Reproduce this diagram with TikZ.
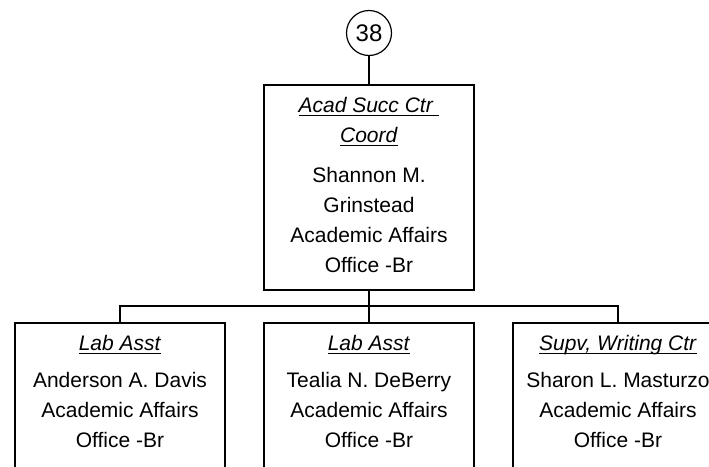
\documentclass[tikz,border=0pt]{standalone}
\usepackage{fontspec}
\setmainfont{Liberation Sans}
\usetikzlibrary{positioning}
\tikzset{
  every picture/.style={line width=1.2pt},
  posbox/.style={draw, rectangle, minimum width=210pt, inner sep=0pt},
  postext/.style={align=center, inner sep=0pt, font=\fontsize{21}{30}\selectfont},
  bubble/.style={draw, circle, minimum size=45pt, inner sep=0pt, font=\fontsize{24}{28}\selectfont},
  link/.style={draw, line width=1.2pt},
}
\newsavebox{\titlebox}
\newcommand{\postitle}[1]{\sbox{\titlebox}{\textit{#1}}\rlap{\rule[-4pt]{\wd\titlebox}{1.3pt}}\usebox{\titlebox}}

\begin{document}
\begin{tikzpicture}[x=1pt, y=-1pt]
  \useasboundingbox (0,0) rectangle (709,466);
  \clip (0,0) rectangle (709,466);
  % page connector and coordinator
  \node[bubble] (badge) at (369,33) {38};
  \node[posbox, minimum height=205pt] (coord) at (369,187.5) {};
  \node[postext, below=12pt of coord.north] (coordtxt)
    {\postitle{Acad Succ Ctr\ }\\\postitle{Coord}\\[10pt]Shannon M.\\Grinstead\\Academic Affairs\\Office -Br};
  \draw[link] (badge) -- (coord);
  % staff row
  \node[posbox, minimum height=180pt] (lab1) at (120,413) {};
  \node[posbox, minimum height=180pt] (lab2) at (369,413) {};
  \node[posbox, minimum height=180pt] (writing) at (618,413) {};
  \node[postext, below=12pt of lab1.north] (lab1txt)
    {\postitle{Lab Asst}\\[7pt]Anderson A. Davis\\Academic Affairs\\Office -Br};
  \node[postext, below=12pt of lab2.north] (lab2txt)
    {\postitle{Lab Asst}\\[7pt]Tealia N. DeBerry\\Academic Affairs\\Office -Br};
  \node[postext, below=12pt of writing.north] (writingtxt)
    {\postitle{Supv, Writing Ctr}\\[7pt]Sharon L. Masturzo\\Academic Affairs\\Office -Br};
  % org lines
  \coordinate (bus) at (369,306);
  \draw[link] (coord) -- (bus);
  \draw[link] (bus) -| (lab1);
  \draw[link] (bus) -| (writing);
  \draw[link] (bus) -- (lab2);
\end{tikzpicture}
\end{document}
